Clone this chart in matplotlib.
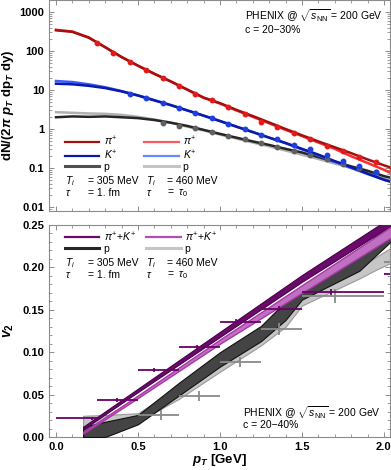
import matplotlib
matplotlib.use('Agg')
import matplotlib.pyplot as plt
import matplotlib.ticker as mticker
from matplotlib.lines import Line2D

plt.rcParams['font.family'] = ['Liberation Sans', 'DejaVu Sans']
plt.rcParams['mathtext.fontset'] = 'custom'
plt.rcParams['mathtext.rm'] = 'Liberation Sans'
plt.rcParams['mathtext.it'] = 'Liberation Sans:italic'
plt.rcParams['mathtext.bf'] = 'Liberation Sans:bold'
plt.rcParams['mathtext.bfit'] = 'Liberation Sans:bold:italic'

# ---- spectra (top panel) ----
pt_curve = [0.0, 0.1, 0.2, 0.3, 0.4, 0.5, 0.6, 0.7, 0.8, 0.9, 1.0,
            1.1, 1.2, 1.3, 1.4, 1.5, 1.6, 1.7, 1.8, 1.9, 2.0, 2.05]
pi_305 = [340, 310, 220, 125, 70, 42, 26, 16.6, 10.3, 6.4, 4.6,
          3.1, 2.15, 1.47, 1.0, 0.69, 0.48, 0.34, 0.24, 0.166, 0.117, 0.1]
pi_460 = [350, 315, 222, 125, 70, 42, 26, 16.5, 10.2, 6.3, 4.5,
          3.0, 2.05, 1.4, 0.95, 0.66, 0.45, 0.31, 0.2, 0.135, 0.09, 0.072]
k_305 = [14.5, 14, 12.8, 11.2, 9.2, 7.2, 5.4, 4.1, 3.0, 2.2, 1.6,
         1.15, 0.83, 0.6, 0.44, 0.31, 0.22, 0.15, 0.105, 0.072, 0.05, 0.043]
k_460 = [17, 16, 14, 11.8, 9.4, 7.3, 5.5, 4.1, 3.0, 2.2, 1.6,
         1.15, 0.84, 0.6, 0.43, 0.3, 0.21, 0.145, 0.1, 0.07, 0.05, 0.044]
p_305 = [2.0, 2.1, 2.05, 2.1, 2.0, 1.9, 1.7, 1.45, 1.2, 0.95, 0.75,
         0.6, 0.48, 0.39, 0.31, 0.25, 0.19, 0.145, 0.11, 0.085, 0.062, 0.055]
p_460 = [2.7, 2.6, 2.5, 2.45, 2.3, 2.05, 1.75, 1.45, 1.15, 0.92, 0.72,
         0.57, 0.45, 0.36, 0.28, 0.22, 0.17, 0.13, 0.1, 0.075, 0.055, 0.045]

pi_data_pt = [0.25, 0.35, 0.45, 0.55, 0.65, 0.75, 0.85, 0.95, 1.05, 1.15,
              1.25, 1.35, 1.45, 1.55, 1.65, 1.75, 1.85, 1.95, 2.05]
pi_data = [160, 89, 52, 32, 20.5, 12.7, 7.9, 5.6, 3.6, 2.4,
           1.5, 1.1, 0.8, 0.55, 0.37, 0.27, 0.19, 0.14, 0.1]
k_data_pt = [0.45, 0.55, 0.65, 0.75, 0.85, 0.95, 1.05, 1.15, 1.25, 1.35,
             1.45, 1.55, 1.65, 1.75, 1.85, 1.95]
k_data = [8.0, 6.1, 4.6, 3.5, 2.6, 1.9, 1.35, 1.0, 0.72, 0.54,
          0.4, 0.3, 0.21, 0.15, 0.11, 0.078]
p_data_pt = [0.65, 0.75, 0.85, 0.95, 1.05, 1.15, 1.25, 1.35, 1.45, 1.55,
             1.65, 1.75, 1.85, 1.95]
p_data = [1.4, 1.2, 1.05, 0.85, 0.68, 0.55, 0.44, 0.35, 0.28, 0.22,
          0.17, 0.13, 0.1, 0.078]

# ---- v2 (bottom panel) ----
band_pt = [0.165, 0.3, 0.5, 0.75, 1.0, 1.25, 1.4, 1.5, 1.85, 1.95, 2.05]
p305_lo = [0.0, 0.0, 0.015, 0.049, 0.083, 0.113, 0.138, 0.162, 0.196, 0.214, 0.232]
p305_hi = [0.012, 0.018, 0.026, 0.064, 0.100, 0.131, 0.160, 0.178, 0.214, 0.238, 0.262]
p460_lo = [0.012, 0.013, 0.018, 0.045, 0.077, 0.108, 0.130, 0.155, 0.187, 0.197, 0.206]
p460_hi = [0.025, 0.026, 0.028, 0.060, 0.094, 0.125, 0.148, 0.165, 0.200, 0.212, 0.224]

pik_pt = [0.165, 0.5, 1.0, 1.5, 2.05]
pik305_lo = [0.009, 0.053, 0.118, 0.183, 0.250]
pik305_hi = [0.012, 0.057, 0.124, 0.191, 0.260]
pik460_lo = [0.004, 0.046, 0.110, 0.170, 0.236]
pik460_hi = [0.006, 0.049, 0.115, 0.179, 0.249]

pik_v2_pt = [0.22, 0.37, 0.60, 0.86, 1.10, 1.36, 1.68, 2.2]
pik_v2_lo = [0.0, 0.25, 0.5, 0.75, 1.0, 1.25, 1.5, 2.0]
pik_v2_hi = [0.25, 0.5, 0.75, 1.0, 1.25, 1.5, 2.0, 2.5]
pik_v2 = [0.022, 0.0435, 0.079, 0.106, 0.136, 0.151, 0.171, 0.192]
pik_v2_err = [0.002, 0.002, 0.002, 0.002, 0.003, 0.003, 0.004, 0.005]

p_v2_pt = [0.64, 0.87, 1.12, 1.36, 1.70, 2.2]
p_v2_lo = [0.5, 0.75, 1.0, 1.25, 1.5, 2.0]
p_v2_hi = [0.75, 1.0, 1.25, 1.5, 2.0, 2.5]
p_v2 = [0.026, 0.048, 0.088, 0.127, 0.166, 0.206]
p_v2_err = [0.006, 0.006, 0.006, 0.007, 0.008, 0.009]

C_PI1, C_PI2 = '#a50f0f', '#ff2a2a'
C_K1, C_K2 = '#0a1aa8', '#3a5cff'
C_P1, C_P2 = '#262626', '#b0b0b0'
C_PU1, C_PU2 = '#6a0a6a', '#a838a8'
FRAME = '#8c8c8c'


def style_axes(ax):
  for s in ax.spines.values():
    s.set_color(FRAME)
    s.set_linewidth(0.8)
  ax.tick_params(which='both', direction='in', top=True, right=True,
                 color=FRAME, labelsize=8)
  ax.tick_params(which='major', length=3.5, width=0.7)
  ax.tick_params(which='minor', length=2, width=0.6)


fig = plt.figure(figsize=(3.91, 4.70), dpi=100)
ax1 = fig.add_axes([49 / 391, 259 / 470, 341 / 391, 211 / 470])
ax2 = fig.add_axes([49 / 391, 33 / 470, 341 / 391, 212 / 470])

xlim = (-0.0427, 2.037)

# top panel
ax1.plot(pt_curve, p_460, color=C_P2, lw=1.8)
ax1.plot(pt_curve, p_305, color=C_P1, lw=1.8)
ax1.plot(pt_curve, k_460, color=C_K2, lw=1.8)
ax1.plot(pt_curve, k_305, color=C_K1, lw=1.8)
ax1.plot(pt_curve, pi_460, color=C_PI2, lw=1.8)
ax1.plot(pt_curve, pi_305, color=C_PI1, lw=1.8)
ax1.plot(p_data_pt, p_data, 'o', color='#606060', ms=3.2, zorder=5)
ax1.plot(k_data_pt, k_data, 'o', color='#1f3fe0', ms=3.2, zorder=5)
ax1.plot(pi_data_pt, pi_data, 'o', color='#e31a1a', ms=3.2, zorder=5)
ax1.set_yscale('log')
ax1.set_ylim(10 ** -2.103, 10 ** 3.308)
ax1.set_xlim(*xlim)
ax1.yaxis.set_major_locator(mticker.FixedLocator([0.01, 0.1, 1, 10, 100, 1000]))
ax1.yaxis.set_major_formatter(mticker.FixedFormatter(['0.01', '0.1', '1', '10', '100', '1000']))
ax1.yaxis.set_minor_locator(mticker.LogLocator(subs=range(2, 10)))
ax1.yaxis.set_minor_formatter(mticker.NullFormatter())
ax1.xaxis.set_major_locator(mticker.MultipleLocator(0.5))
ax1.xaxis.set_minor_locator(mticker.MultipleLocator(0.1))
ax1.set_xticklabels([])
style_axes(ax1)
for t in ax1.get_yticklabels():
  t.set_fontweight('bold')
ax1.set_ylabel(r'$\mathbf{dN/(2}\mathbfit{\pi}\ \mathbfit{p}_{\mathbfit{T}}\ '
               r'\mathbf{dp}_{\mathbfit{T}}\ \mathbf{dy)}$', fontsize=9.5)
ax1.yaxis.set_label_coords(-0.098, 0.5)

h1 = [Line2D([], [], color=C_PI1, lw=1.6), Line2D([], [], color=C_K1, lw=1.6),
      Line2D([], [], color='#505050', lw=2.2), Line2D([], [], color='#ff5a5a', lw=1.6),
      Line2D([], [], color='#6b86ff', lw=1.6), Line2D([], [], color='#c4c4c4', lw=2.2)]
l1 = [r'$\pi^{+}$', r'$K^{+}$', 'p', r'$\pi^{+}$', r'$K^{+}$', 'p']
ax1.legend(h1, l1, ncol=2, loc='upper left', bbox_to_anchor=(0.047, 0.36),
           frameon=False, fontsize=7.5, handlelength=3.3, handletextpad=0.4,
           columnspacing=2.6, labelspacing=0.0, borderpad=0, borderaxespad=0)
for x0, x1, s0, s1, y in [(0.047, 0.114, r'$T_i$', '= 305 MeV', 0.142),
                          (0.284, 0.346, r'$T_i$', '= 460 MeV', 0.142),
                          (0.047, 0.114, r'$\tau$', '= 1. fm', 0.085),
                          (0.284, 0.346, r'$\tau$', r'=  $\tau_0$', 0.085)]:
  ax1.text(x0, y, s0, transform=ax1.transAxes, fontsize=7.5, va='center')
  ax1.text(x1, y, s1, transform=ax1.transAxes, fontsize=7.5, va='center')
ax1.text(0.575, 0.924, r'PHENIX @ $\sqrt{s_{\rm NN}}$ = 200 GeV',
         transform=ax1.transAxes, fontsize=7.5, va='center')
ax1.text(0.575, 0.858, 'c = 20\u221230%', transform=ax1.transAxes,
         fontsize=7.5, va='center')

# bottom panel
ax2.fill_between(band_pt, p460_lo, p460_hi, facecolor='#c6c6c6',
                 edgecolor='#9a9a9a', lw=0.8, zorder=2)
ax2.fill_between(band_pt, p305_lo, p305_hi, facecolor='#444444',
                 edgecolor='#111111', lw=0.8, zorder=3)
ax2.fill_between(pik_pt, pik305_lo, pik305_hi, facecolor=C_PU1,
                 edgecolor='#4a004a', lw=0.8, zorder=4)
ax2.fill_between(pik_pt, pik460_lo, pik460_hi, facecolor='#c070c0',
                 edgecolor=C_PU2, lw=1.0, zorder=5)
p_xerr = [[c - lo for c, lo in zip(p_v2_pt, p_v2_lo)],
          [hi - c for c, hi in zip(p_v2_pt, p_v2_hi)]]
ax2.errorbar(p_v2_pt, p_v2, xerr=p_xerr, yerr=p_v2_err, fmt='none',
             ecolor='#8a8a8a', elinewidth=1.3, zorder=6)
pik_xerr = [[c - lo for c, lo in zip(pik_v2_pt, pik_v2_lo)],
            [hi - c for c, hi in zip(pik_v2_pt, pik_v2_hi)]]
ax2.errorbar(pik_v2_pt, pik_v2, xerr=pik_xerr, yerr=pik_v2_err, fmt='none',
             ecolor='#6a006a', elinewidth=1.3, zorder=7)
ax2.set_xlim(*xlim)
ax2.set_ylim(0, 0.25)
ax2.xaxis.set_major_locator(mticker.MultipleLocator(0.5))
ax2.xaxis.set_minor_locator(mticker.MultipleLocator(0.1))
ax2.xaxis.set_major_formatter(mticker.FormatStrFormatter('%.1f'))
ax2.yaxis.set_major_locator(mticker.MultipleLocator(0.05))
ax2.yaxis.set_minor_locator(mticker.MultipleLocator(0.01))
ax2.yaxis.set_major_formatter(mticker.FormatStrFormatter('%.2f'))
style_axes(ax2)
for t in ax2.get_yticklabels() + ax2.get_xticklabels():
  t.set_fontweight('bold')
ax2.set_ylabel(r'$\mathbfit{v}_{\mathbf{2}}$', fontsize=10)
ax2.yaxis.set_label_coords(-0.098, 0.5)
ax2.set_xlabel(r'$\mathbfit{p}_{\mathbfit{T}}$ [GeV]', fontsize=9.5,
               fontweight='bold')
ax2.xaxis.set_label_coords(0.5, -0.072)

h2 = [Line2D([], [], color=C_PU1, lw=1.6), Line2D([], [], color='#262626', lw=2.2),
      Line2D([], [], color='#b050b0', lw=1.6), Line2D([], [], color='#c4c4c4', lw=2.2)]
l2 = [r'$\pi^{+}\!+\!K^{+}$', 'p', r'$\pi^{+}\!+\!K^{+}$', 'p']
ax2.legend(h2, l2, ncol=2, loc='upper left', bbox_to_anchor=(0.047, 0.975),
           frameon=False, fontsize=7.5, handlelength=3.3, handletextpad=0.4,
           columnspacing=1.0, labelspacing=0.0, borderpad=0, borderaxespad=0)
for x0, x1, s0, s1, y in [(0.047, 0.114, r'$T_i$', '= 305 MeV', 0.821),
                          (0.284, 0.346, r'$T_i$', '= 460 MeV', 0.821),
                          (0.047, 0.114, r'$\tau$', '= 1. fm', 0.764),
                          (0.284, 0.346, r'$\tau$', r'=  $\tau_0$', 0.764)]:
  ax2.text(x0, y, s0, transform=ax2.transAxes, fontsize=7.5, va='center')
  ax2.text(x1, y, s1, transform=ax2.transAxes, fontsize=7.5, va='center')
ax2.text(0.569, 0.113, r'PHENIX @ $\sqrt{s_{\rm NN}}$ = 200 GeV',
         transform=ax2.transAxes, fontsize=7.5, va='center')
ax2.text(0.569, 0.057, 'c = 20\u221240%', transform=ax2.transAxes,
         fontsize=7.5, va='center')

fig.savefig('out.png', dpi=100)
